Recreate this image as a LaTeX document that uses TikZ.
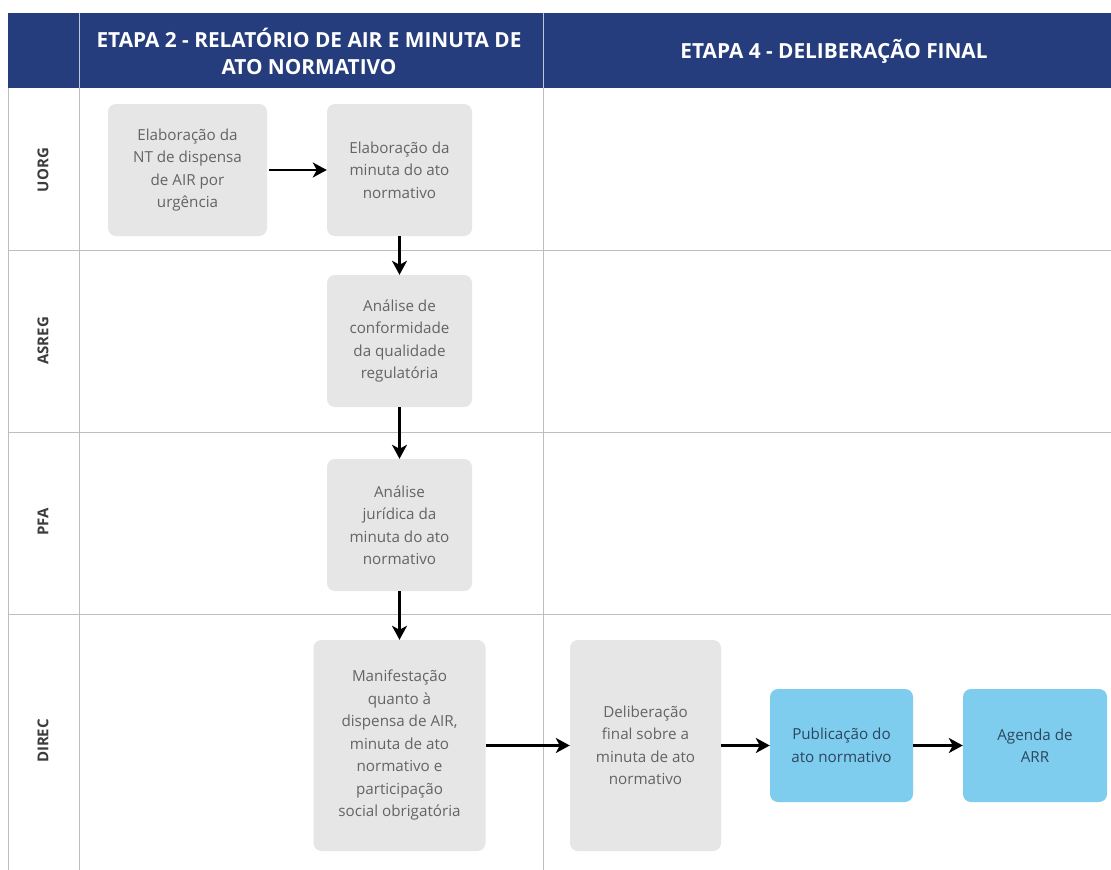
\documentclass[tikz,border=0pt]{standalone}
\usepackage{fontspec}
\setmainfont{Open Sans}
\usetikzlibrary{arrows.meta}
\definecolor{hdr}{RGB}{38,61,125}
\definecolor{gridc}{RGB}{190,190,190}
\definecolor{boxg}{RGB}{230,230,230}
\definecolor{boxb}{RGB}{126,205,238}
\definecolor{txtg}{RGB}{100,100,100}
\definecolor{txtb}{RGB}{45,70,95}
\definecolor{lanet}{RGB}{60,60,60}
\tikzset{
  x=1pt, y=-1pt,
  gridline/.style={draw=gridc, line width=1pt},
  graybox/.style={fill=boxg, rounded corners=8pt, text=txtg, align=center,
    font=\fontsize{15.2}{22.5}\selectfont, inner sep=0pt},
  bluebox/.style={fill=boxb, rounded corners=8pt, text=txtb, align=center,
    font=\fontsize{15.2}{22.5}\selectfont, inner sep=0pt},
  hdrtext/.style={text=white, align=center, font=\bfseries\fontsize{20.8}{27}\selectfont},
  lanelabel/.style={rotate=90, text=lanet, font=\bfseries\fontsize{15}{18}\selectfont},
  flow/.style={draw=black, line width=2.5pt, -{Stealth[length=14pt,width=15pt,inset=4pt]}},
}
\begin{document}
\begin{tikzpicture}
\useasboundingbox (0,0) rectangle (1111,870);
\fill[white] (0,0) rectangle (1111,870);
% header
\fill[hdr] (8,13) rectangle (1111,88);
\draw[draw=white!70!hdr, line width=1pt] (79,13) -- (79,88);
\draw[draw=white!70!hdr, line width=1pt] (543,13) -- (543,88);
\node[hdrtext] (h2) at (309,51) {ETAPA 2 - RELATÓRIO DE AIR E MINUTA DE\\ATO NORMATIVO};
\node[hdrtext] (h4) at (834,51) {ETAPA 4 - DELIBERAÇÃO FINAL};
% grid
\draw[gridline] (8,88) -- (8,870);
\draw[gridline] (79,88) -- (79,870);
\draw[gridline] (543,88) -- (543,870);
\draw[gridline] (8,250) -- (1111,250);
\draw[gridline] (8,432) -- (1111,432);
\draw[gridline] (8,614) -- (1111,614);
% lane labels
\node[lanelabel] (l1) at (43,170) {UORG};
\node[lanelabel] (l2) at (43,341) {ASREG};
\node[lanelabel] (l3) at (43,522) {PFA};
\node[lanelabel] (l4) at (43,741) {DIREC};
% boxes
\node[graybox, minimum width=159pt, minimum height=132pt] (b1) at (187.5,170) {Elaboração da\\NT de dispensa\\de AIR por\\urgência};
\node[graybox, minimum width=145pt, minimum height=132pt] (b2) at (399.5,170) {Elaboração da\\minuta do ato\\normativo};
\node[graybox, minimum width=145pt, minimum height=132pt] (b3) at (399.5,341) {Análise de\\conformidade\\da qualidade\\regulatória};
\node[graybox, minimum width=145pt, minimum height=132pt] (b4) at (399.5,525) {Análise\\jurídica da\\minuta do ato\\normativo};
\node[graybox, minimum width=172pt, minimum height=211pt] (b5) at (399.5,745.5) {Manifestação\\quanto à\\dispensa de AIR,\\minuta de ato\\normativo e\\participação\\social obrigatória};
\node[graybox, minimum width=151pt, minimum height=211pt] (b6) at (645.5,745.5) {Deliberação\\final sobre a\\minuta de ato\\normativo};
\node[bluebox, minimum width=143pt, minimum height=113pt] (b7) at (841.5,745.5) {Publicação do\\ato normativo};
\node[bluebox, minimum width=144pt, minimum height=113pt] (b8) at (1035,745.5) {Agenda de\\ARR};
% arrows
\draw[flow] ([xshift=2pt]b1.east) -- (b2.west);
\draw[flow] (b2.south) -- (b3.north);
\draw[flow] (b3.south) -- (b4.north);
\draw[flow] (b4.south) -- (b5.north);
\draw[flow] (b5.east) -- (b6.west);
\draw[flow] (b6.east) -- (b7.west);
\draw[flow] (b7.east) -- (b8.west);
\end{tikzpicture}
\end{document}
